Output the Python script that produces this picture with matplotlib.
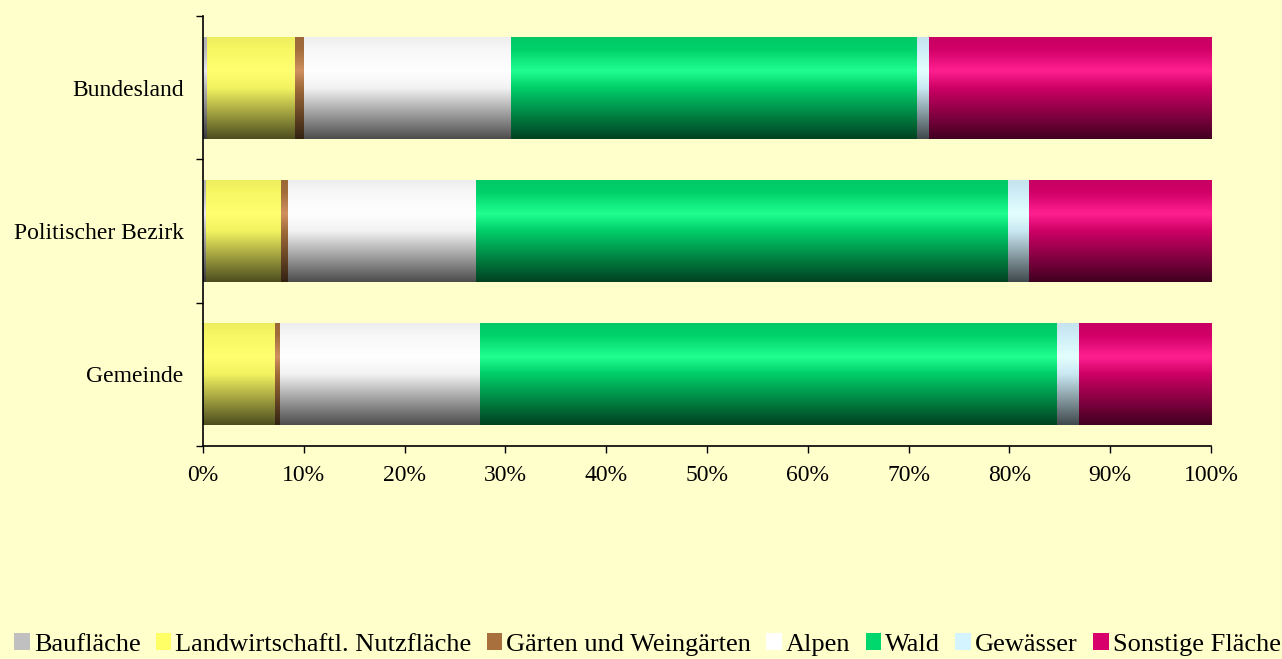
import numpy as np
import matplotlib
matplotlib.use("Agg")
import matplotlib.pyplot as plt
from matplotlib.colors import to_rgb
from matplotlib.patches import Patch
from matplotlib.ticker import FixedLocator, PercentFormatter

categories = ["Gemeinde", "Politischer Bezirk", "Bundesland"]
series_names = ["Baufläche", "Landwirtschaftl. Nutzfläche", "Gärten und Weingärten",
                "Alpen", "Wald", "Gewässer", "Sonstige Fläche"]
# percent shares per category (Gemeinde, Politischer Bezirk, Bundesland)
bauflaeche = [0.1, 0.3, 0.4]
landwirtschaft = [7.0, 7.4, 8.7]
gaerten = [0.5, 0.7, 0.9]
alpen = [19.9, 18.7, 20.6]
wald = [57.2, 52.8, 40.2]
gewaesser = [2.2, 2.0, 1.2]
sonstige = [13.1, 18.1, 28.0]
x_ticks = [0, 10, 20, 30, 40, 50, 60, 70, 80, 90, 100]

series = [bauflaeche, landwirtschaft, gaerten, alpen, wald, gewaesser, sonstige]
colors = ["#c0c0c0", "#ffff66", "#a8703c", "#ffffff", "#00d86e", "#d4f4ff", "#d8006a"]
highlights = ["#e8e8f0", "#ffff70", "#d09060", "#ffffff", "#20ff90", "#e4ffff", "#ff2090"]

BG = "#ffffcc"
plt.rcParams['font.family'] = ['Liberation Serif', 'DejaVu Serif']
FS = 17
LFS = 19

fig = plt.figure(figsize=(12.82, 6.59), dpi=100, facecolor=BG)
ax = fig.add_axes([203/1282, 1 - 446/659, (1211 - 203)/1282, (446 - 16)/659])
ax.set_facecolor(BG)

bar_h = 0.71


def grad_img(c, h):
    c = np.array(to_rgb(c))
    h = np.array(to_rgb(h))
    stops_t = [0.0, 0.12, 0.33, 0.5, 1.0]
    stops_c = [c * 0.93, c * 0.97, h, c * 0.95, c * 0.3]
    t = np.linspace(0, 1, 256)
    arr = np.zeros((256, 1, 3))
    for k in range(3):
        arr[:, 0, k] = np.interp(t, stops_t, [s[k] for s in stops_c])
    return np.clip(arr, 0, 1)


ypos = np.arange(len(categories))
for i, y in enumerate(ypos):
    left = 0.0
    for vals, col, hl in zip(series, colors, highlights):
        w = vals[i]
        ax.imshow(grad_img(col, hl), extent=[left, left + w, y - bar_h / 2, y + bar_h / 2],
                  aspect='auto', interpolation='bilinear', zorder=2, origin='upper')
        left += w

ax.set_xlim(0, 100)
ax.set_ylim(-0.5, 2.5)

ax.spines['top'].set_visible(False)
ax.spines['right'].set_visible(False)
ax.spines['left'].set_linewidth(1.2)
ax.spines['bottom'].set_linewidth(1.2)

ax.xaxis.set_major_locator(FixedLocator(x_ticks))
ax.xaxis.set_major_formatter(PercentFormatter(decimals=0))
ax.tick_params(axis='x', direction='out', length=5, width=1, labelsize=FS, pad=9)

ax.set_yticks(ypos)
ax.set_yticklabels(categories)
ax.tick_params(axis='y', which='major', length=0, labelsize=FS, pad=14)
ax.set_yticks([-0.5, 0.5, 1.5, 2.5], minor=True)
ax.tick_params(axis='y', which='minor', direction='out', length=5, width=1)

handles = [Patch(facecolor=c, edgecolor='none') for c in colors]
fig.legend(handles, series_names, loc='lower center', bbox_to_anchor=(0.505, -0.031),
           ncol=7, frameon=False, fontsize=LFS, handlelength=0.6, handleheight=0.65,
           handletextpad=0.15, columnspacing=0.57)

fig.savefig("out.png", dpi=100, facecolor=BG)
